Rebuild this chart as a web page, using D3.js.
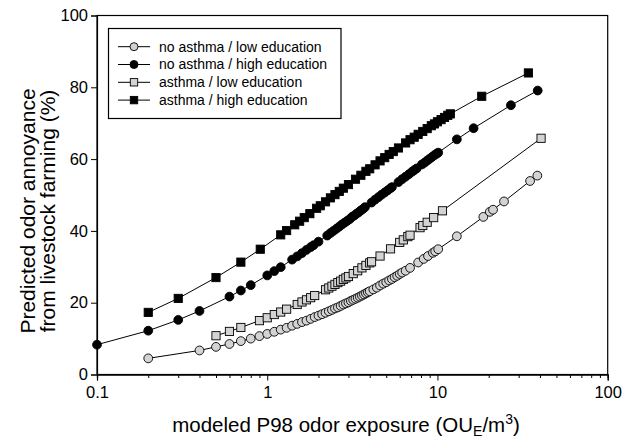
<!DOCTYPE html>
<html><head><meta charset="utf-8">
<script src="https://cdn.jsdelivr.net/npm/d3@7"></script>
<style>
html,body{margin:0;padding:0;background:#fff;}
svg{display:block;font-family:"Liberation Sans",Arial,sans-serif;}
</style></head>
<body><svg id="chart" width="628" height="441"></svg>
<script>
// ---- data ----
const seriesNames = ["no asthma / low education","no asthma / high education","asthma / low education","asthma / high education"];

const xNoAsthmaLow = [0.2,0.4,0.5,0.6,0.7,0.8,0.9,1.0,1.1,1.2,1.3,1.4,1.5,1.6,1.7,1.8,1.9,2.0,2.1,2.2,2.3,2.4,2.5,2.6,2.7,2.8,2.9,3.0,3.1,3.2,3.3,3.4,3.5,3.6,3.7,3.8,3.9,4.0,4.2,4.4,4.6,4.8,5.0,5.2,5.4,5.6,5.8,6.0,6.2,6.5,6.9,7.7,8.3,8.8,9.4,9.7,10.1,13.0,18.6,20.3,21.2,24.6,35,38.6];
const yNoAsthmaLow = [4.5,6.7,7.7,8.5,9.3,10.0,10.7,11.3,11.9,12.5,13.0,13.6,14.1,14.6,15.0,15.5,16.0,16.4,16.8,17.2,17.6,18.0,18.4,18.7,19.1,19.5,19.8,20.1,20.5,20.8,21.1,21.4,21.7,22.0,22.3,22.6,22.9,23.2,23.7,24.2,24.8,25.3,25.7,26.2,26.6,27.1,27.5,28.0,28.4,28.9,29.7,31.2,32.2,33.0,33.9,34.3,34.9,38.5,43.9,45.3,45.9,48.2,53.9,55.4];

const xNoAsthmaHigh = [0.1,0.2,0.3,0.4,0.6,0.7,0.8,1.0,1.1,1.2,1.4,1.5,1.6,1.7,1.8,1.87,2.0,2.25,2.35,2.45,2.55,2.65,2.75,2.85,2.95,3.05,3.15,3.25,3.35,3.45,3.55,3.65,3.75,4.1,4.3,4.5,4.7,4.9,5.1,5.3,5.4,5.9,6.2,6.5,6.8,7.1,7.3,7.55,8.1,8.4,8.7,9.0,9.3,9.6,9.9,10.1,13.0,16.3,27.0,38.8];
const yNoAsthmaHigh = [8.3,12.2,15.2,17.7,21.7,23.4,24.9,27.6,28.8,29.9,32.0,32.9,33.8,34.7,35.5,36.0,37.0,38.7,39.4,40.0,40.6,41.2,41.8,42.3,42.8,43.3,43.9,44.3,44.8,45.2,45.7,46.1,46.6,47.9,48.7,49.4,50.1,50.7,51.3,51.9,52.2,53.6,54.4,55.1,55.8,56.5,56.9,57.4,58.5,59.0,59.6,60.1,60.6,61.1,61.5,61.8,65.5,68.6,75.0,79.1];

const xAsthmaLow = [0.5,0.6,0.7,0.9,1.0,1.1,1.2,1.3,1.5,1.6,1.7,1.8,1.9,2.2,2.3,2.4,2.5,2.6,2.7,2.8,2.9,3.0,3.2,3.4,3.6,3.8,4.0,4.1,4.6,5.3,6.0,6.3,6.7,6.9,7.9,8.2,8.7,9.5,10.7,40.6];
const yAsthmaLow = [10.8,12.0,13.1,15.0,15.8,16.7,17.4,18.2,19.5,20.2,20.8,21.4,22.0,23.6,24.1,24.6,25.1,25.6,26.0,26.5,26.9,27.3,28.1,28.9,29.7,30.4,31.1,31.4,33.0,35.0,36.8,37.5,38.4,38.8,40.9,41.5,42.4,43.7,45.6,65.8];

const xAsthmaHigh = [0.2,0.3,0.5,0.7,0.91,1.2,1.3,1.45,1.55,1.65,1.78,1.95,2.05,2.2,2.35,2.5,2.65,2.8,3.0,3.3,3.55,3.8,4.0,4.3,4.6,4.9,5.2,5.5,5.9,6.5,6.9,7.3,7.7,8.2,8.7,9.2,9.6,10.0,10.5,11.0,11.5,11.9,18.2,34.2];
const yAsthmaHigh = [17.3,21.2,27.0,31.3,34.9,38.9,40.1,41.7,42.7,43.7,44.8,46.3,47.0,48.1,49.2,50.1,51.0,51.9,52.9,54.4,55.5,56.6,57.3,58.4,59.5,60.4,61.3,62.1,63.1,64.5,65.4,66.1,66.9,67.7,68.5,69.3,69.8,70.4,71.0,71.6,72.2,72.6,77.5,84.0];

const xTickValues = [0.1,1,10,100];
const xTickLabels = ["0.1","1","10","100"];
const xMinorTicks = [0.2,0.3,0.4,0.5,0.6,0.7,0.8,0.9,2,3,4,5,6,7,8,9,20,30,40,50,60,70,80,90];
const yTickValues = [0,20,40,60,80,100];

// ---- chart ----
const svg = d3.select("#chart");
const L = 97, R = 607.7, T = 15.5, B = 374.5;
const x = d3.scaleLog().domain([0.1,100]).range([L,R]);
const y = d3.scaleLinear().domain([0,100]).range([B,T]);

const styles = [
  {shape:"circle", fill:"#d3d3d3"},
  {shape:"circle", fill:"#000"},
  {shape:"square", fill:"#d3d3d3"},
  {shape:"square", fill:"#000"}
];
const series = [
  d3.zip(xNoAsthmaLow,yNoAsthmaLow),
  d3.zip(xNoAsthmaHigh,yNoAsthmaHigh),
  d3.zip(xAsthmaLow,yAsthmaLow),
  d3.zip(xAsthmaHigh,yAsthmaHigh)
];

// frame
svg.append("rect").attr("x",L).attr("y",T).attr("width",R-L).attr("height",B-T)
  .attr("fill","none").attr("stroke","#000").attr("stroke-width",1.2);

// axes
const fontTick = 16.5;
const xAxis = svg.append("g").attr("transform",`translate(0,${B})`)
  .call(d3.axisBottom(x).tickValues(xTickValues).tickFormat((d,i)=>xTickLabels[i]).tickSize(6).tickPadding(6));
const xMinor = svg.append("g").attr("transform",`translate(0,${B})`)
  .call(d3.axisBottom(x).tickValues(xMinorTicks).tickFormat("").tickSize(3.5));
const yAxis = svg.append("g").attr("transform",`translate(${L},0)`)
  .call(d3.axisLeft(y).tickValues(yTickValues).tickSize(6).tickPadding(3));
[xAxis,xMinor,yAxis].forEach(g=>{
  g.select(".domain").attr("stroke","#000").attr("stroke-width",1.2);
  g.selectAll(".tick line").attr("stroke","#000").attr("stroke-width",1);
  g.selectAll("text").attr("fill","#000").style("font-size",fontTick+"px").style("font-family","'Liberation Sans',Arial,sans-serif");
});

// lines and markers
const line = d3.line().x(d=>x(d[0])).y(d=>y(d[1]));
series.forEach((s,i)=>{
  svg.append("path").datum(s).attr("d",line).attr("fill","none").attr("stroke","#000").attr("stroke-width",1);
});
const rC = 4.4, hS = 4.1;
series.forEach((s,i)=>{
  const st = styles[i];
  const g = svg.append("g");
  if (st.shape==="circle") {
    g.selectAll("circle").data(s).join("circle")
      .attr("cx",d=>x(d[0])).attr("cy",d=>y(d[1])).attr("r",rC)
      .attr("fill",st.fill).attr("stroke","#000").attr("stroke-width",0.9);
  } else {
    g.selectAll("rect").data(s).join("rect")
      .attr("x",d=>x(d[0])-hS).attr("y",d=>y(d[1])-hS).attr("width",2*hS).attr("height",2*hS)
      .attr("fill",st.fill).attr("stroke","#000").attr("stroke-width",0.9);
  }
});

// legend
const lg = svg.append("g");
lg.append("rect").attr("x",108.5).attr("y",28.5).attr("width",232.5).attr("height",90)
  .attr("fill","#fff").attr("stroke","#000").attr("stroke-width",1.2);
seriesNames.forEach((name,i)=>{
  const yy = 46.7 + i*17.8;
  lg.append("line").attr("x1",118).attr("x2",150).attr("y1",yy).attr("y2",yy).attr("stroke","#000");
  const st = styles[i];
  if (st.shape==="circle") lg.append("circle").attr("cx",134).attr("cy",yy).attr("r",rC-0.4).attr("fill",st.fill).attr("stroke","#000").attr("stroke-width",0.9);
  else lg.append("rect").attr("x",134-hS+0.4).attr("y",yy-hS+0.4).attr("width",2*hS-0.8).attr("height",2*hS-0.8).attr("fill",st.fill).attr("stroke","#000").attr("stroke-width",0.9);
  lg.append("text").attr("x",159).attr("y",yy).attr("dy","0.35em").style("font-size","14px").text(name);
});

// axis titles
const xt = svg.append("text").attr("x",346).attr("y",432).attr("text-anchor","middle").style("font-size","20.5px");
xt.append("tspan").text("modeled P98 odor exposure (OU");
xt.append("tspan").attr("baseline-shift","-25%").style("font-size","14px").text("E");
xt.append("tspan").text("/m");
xt.append("tspan").attr("baseline-shift","super").style("font-size","14px").text("3");
xt.append("tspan").text(")");

const yt = svg.append("text").attr("transform","translate(0,211) rotate(-90)").attr("text-anchor","middle").style("font-size","21px");
yt.append("tspan").attr("x",0).attr("y",35).text("Predicted odor annoyance");
yt.append("tspan").attr("x",0).attr("y",55).text("from livestock farming (%)");
</script></body></html>
